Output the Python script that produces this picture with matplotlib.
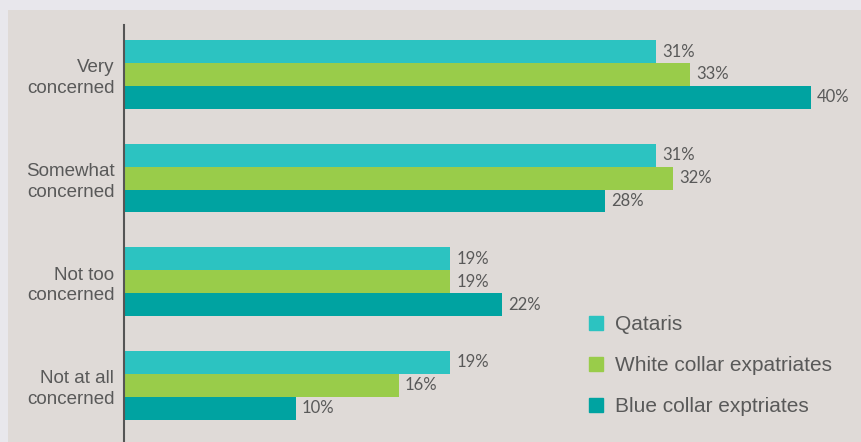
import matplotlib.pyplot as plt
import matplotlib.patches as mpatches
import numpy as np

# data
categories = ['Very\nconcerned', 'Somewhat\nconcerned', 'Not too\nconcerned', 'Not at all\nconcerned']
series_names = ['Qataris', 'White collar expatriates', 'Blue collar exptriates']
qataris = [31, 31, 19, 19]
white_collar = [33, 32, 19, 16]
blue_collar = [40, 28, 22, 10]

colors = ['#2cc3c1', '#99cc4a', '#00a3a1']
txt = '#595959'

W, H = 862, 442
fig = plt.figure(figsize=(W / 100, H / 100), dpi=100, facecolor='#e8e7ec')
# inner panel
fig.patches.append(mpatches.Rectangle((8 / W, 0), 1, 1 - 10 / H, transform=fig.transFigure,
                                      facecolor='#dfdad7', edgecolor='none', zorder=-5))

ax = fig.add_axes([124 / W, 0, 1 - 124 / W, 1 - 25 / H])
ax.set_facecolor('none')

y = np.arange(len(categories))
bh = 0.222
all_vals = [qataris, white_collar, blue_collar]
for i, vals in enumerate(all_vals):
    pos = y + (i - 1) * bh
    ax.barh(pos, vals, height=bh, color=colors[i], label=series_names[i], zorder=2)
    for p, v in zip(pos, vals):
        ax.annotate(f'{v}%', (v, p), xytext=(4.5, 0), textcoords='offset points',
                    va='center', ha='left', fontsize=12, color=txt, family='Lato')

ax.set_xlim(0, 43)
ax.set_ylim(3.55, -0.478)
ax.set_yticks(y)
ax.set_yticklabels(categories, fontsize=13.5, color=txt, family='Liberation Sans', linespacing=1.3)
ax.tick_params(axis='y', length=0, pad=7)
ax.set_xticks([])
for s in ['top', 'right', 'bottom']:
    ax.spines[s].set_visible(False)
ax.spines['left'].set_color('#555555')
ax.spines['left'].set_linewidth(1.5)

handles = [mpatches.Patch(color=c) for c in colors]
leg = fig.legend(handles, series_names, loc='upper left', bbox_to_anchor=(581 / W, 1 - 307 / H),
                 frameon=False, handlelength=0.68, handleheight=0.68,
                 handletextpad=0.55, labelspacing=1.05, borderaxespad=0,
                 prop={'family': 'Liberation Sans', 'size': 15})
for t in leg.get_texts():
    t.set_color(txt)

fig.savefig('out.png', dpi=100, facecolor=fig.get_facecolor())
